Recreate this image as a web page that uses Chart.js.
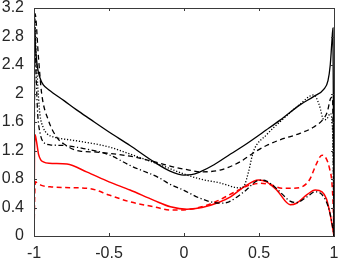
<!DOCTYPE html>
<html><head><meta charset="utf-8">
<script src="https://cdn.jsdelivr.net/npm/chart.js@4/dist/chart.umd.min.js"></script>
<style>html,body{margin:0;padding:0;background:#fff}#wrap{width:338px;height:261px}</style>
</head><body><div id="wrap"><canvas id="c" width="338" height="261"></canvas></div>
<script>
const xTickLabels = ["-1","-0.5","0","0.5","1"];
const yTickLabels = ["0","0.4","0.8","1.2","1.6","2","2.4","2.8","3.2"];

const blackSolidX = [-1,-0.997,-0.99,-0.98,-0.97,-0.955,-0.938,-0.9,-0.8,-0.716,-0.626,-0.5,-0.36,-0.2,-0.093,0,0.05,0.107,0.2,0.31,0.4,0.55,0.643,0.773,0.866,0.933,0.96,0.975,0.985,0.993,1];
const blackSolidY = [0,2.95,2.65,2.42,2.29,2.19,2.12,2.05,1.9,1.77,1.64,1.46,1.27,1.04,0.91,0.855,0.86,0.9,1.0,1.15,1.27,1.49,1.63,1.84,1.96,2.06,2.18,2.4,2.7,2.92,0];

const blackDashX = [-1,-0.993,-0.97,-0.949,-0.905,-0.85,-0.8,-0.693,-0.6,-0.5,-0.36,-0.29,-0.16,-0.05,0.05,0.107,0.24,0.373,0.473,0.55,0.64,0.773,0.866,0.92,0.955,0.977,0.99,1];
const blackDashY = [0,3.12,2.5,2.0,1.63,1.39,1.29,1.19,1.18,1.16,1.12,1.09,1.02,0.96,0.92,0.9,0.925,1.04,1.18,1.27,1.35,1.44,1.53,1.62,1.74,1.93,1.95,0];

const blackDotX = [-1,-0.995,-0.985,-0.97,-0.96,-0.94,-0.915,-0.87,-0.827,-0.7,-0.5,-0.36,-0.16,0,0.107,0.24,0.373,0.4,0.43,0.462,0.55,0.65,0.773,0.866,0.9,0.933,0.955,0.975,0.99,1];
const blackDotY = [0,3.0,2.5,1.95,1.7,1.53,1.44,1.39,1.37,1.33,1.25,1.15,1.0,0.87,0.8,0.745,0.675,0.7,0.9,1.18,1.42,1.62,1.85,1.98,1.85,1.63,1.65,1.72,1.5,0];

const blackDashDotX = [-1,-0.995,-0.985,-0.975,-0.96,-0.938,-0.893,-0.8,-0.7,-0.5,-0.36,-0.16,-0.106,0,0.107,0.24,0.3,0.4,0.507,0.55,0.62,0.707,0.75,0.82,0.875,0.92,0.96,0.985,1];
const blackDashDotY = [0,2.9,2.2,1.7,1.45,1.32,1.28,1.27,1.24,1.14,0.99,0.81,0.74,0.64,0.53,0.46,0.48,0.62,0.785,0.77,0.66,0.49,0.47,0.55,0.62,0.58,0.42,0.2,0];

const redSolidX = [-1,-0.997,-0.993,-0.985,-0.97,-0.955,-0.938,-0.9,-0.78,-0.65,-0.5,-0.36,-0.2,-0.09,0.02,0.12,0.23,0.31,0.4,0.497,0.55,0.62,0.708,0.75,0.82,0.875,0.92,0.95,0.975,0.99,1];
const redSolidY = [0,1.1,1.42,1.35,1.15,1.07,1.04,1.02,1.01,0.9,0.76,0.645,0.5,0.41,0.375,0.4,0.47,0.55,0.69,0.785,0.76,0.64,0.44,0.46,0.58,0.645,0.62,0.52,0.3,0.12,0];

const redDashX = [-1,-0.995,-0.99,-0.98,-0.95,-0.893,-0.8,-0.626,-0.5,-0.36,-0.2,-0.09,-0.023,0.118,0.23,0.34,0.42,0.51,0.58,0.653,0.72,0.786,0.84,0.88,0.92,0.95,0.97,0.986,0.995,1];
const redDashY = [0,0.6,0.76,0.75,0.71,0.69,0.68,0.665,0.575,0.48,0.41,0.365,0.365,0.41,0.5,0.62,0.7,0.74,0.72,0.67,0.67,0.69,0.8,1.0,1.135,1.08,0.95,0.75,0.4,0];

function pts(xs, ys){ return xs.map((x,i)=>({x:x,y:ys[i]})); }
function ds(xs, ys, color, dash, w){
  return {data: pts(xs,ys), borderColor: color, borderWidth: w, borderDash: dash,
    showLine: true, pointRadius: 0, fill: false, cubicInterpolationMode: 'monotone'};
}

const xTickVals = xTickLabels.map(Number);
const yTickVals = yTickLabels.map(Number);
const frameColor = '#3a3a3a';

const framePlugin = {
  id: 'frame',
  afterDatasetsDraw(chart){
    const {ctx, chartArea:a, scales} = chart;
    ctx.save();
    ctx.strokeStyle = frameColor;
    ctx.lineWidth = 1;
    ctx.strokeRect(Math.round(a.left)+0.5, Math.round(a.top)+0.5, Math.round(a.right-a.left), Math.round(a.bottom-a.top));
    const L = 3;
    ctx.beginPath();
    xTickVals.forEach(v=>{
      const px = Math.round(scales.x.getPixelForValue(v))+0.5;
      ctx.moveTo(px, a.bottom); ctx.lineTo(px, a.bottom-L);
      ctx.moveTo(px, a.top); ctx.lineTo(px, a.top+L);
    });
    yTickVals.forEach(v=>{
      const py = Math.round(scales.y.getPixelForValue(v))+0.5;
      ctx.moveTo(a.left, py); ctx.lineTo(a.left+L, py);
      ctx.moveTo(a.right, py); ctx.lineTo(a.right-L, py);
    });
    ctx.stroke();
    ctx.restore();
  }
};

new Chart(document.getElementById('c'), {
  type: 'scatter',
  data: { datasets: [
    ds(blackSolidX, blackSolidY, '#000000', [], 1.3),
    ds(blackDashX, blackDashY, '#000000', [5,3.5], 1.3),
    ds(blackDotX, blackDotY, '#000000', [1.2,1.8], 1.3),
    ds(blackDashDotX, blackDashDotY, '#000000', [5,2.5,1.2,2.5], 1.3),
    ds(redSolidX, redSolidY, '#ff0000', [], 1.5),
    ds(redDashX, redDashY, '#ff0000', [5,3.5], 1.5)
  ]},
  options: {
    responsive: false, animation: false, devicePixelRatio: 1,
    layout: { padding: { top: 8, right: 4, left: 0, bottom: 0 } },
    plugins: { legend: { display: false }, tooltip: { enabled: false } },
    scales: {
      x: { type: 'linear', min: -1, max: 1,
        afterBuildTicks(s){ s.ticks = xTickVals.map(v=>({value:v})); },
        afterFit(s){ s.height = 25; s.paddingLeft = 0; s.paddingRight = 0; },
        grid: { display: false, drawTicks: false },
        border: { display: false },
        ticks: { padding: 8, color: '#262626', maxRotation: 0, autoSkip: false,
          font: { family: 'Liberation Sans, Arial, sans-serif', size: 16 },
          callback(v){ const i = xTickVals.indexOf(v); return i>=0 ? xTickLabels[i] : ''; } }
      },
      y: { type: 'linear', min: 0, max: 3.2,
        afterBuildTicks(s){ s.ticks = yTickVals.map(v=>({value:v})); },
        afterFit(s){ s.width = 34; s.paddingTop = 0; s.paddingBottom = 0; },
        grid: { display: false, drawTicks: false },
        border: { display: false },
        ticks: { padding: 10, color: '#262626', autoSkip: false,
          font: { family: 'Liberation Sans, Arial, sans-serif', size: 16 },
          callback(v){ const i = yTickVals.indexOf(v); return i>=0 ? yTickLabels[i] : ''; } }
      }
    }
  },
  plugins: [framePlugin]
});
</script></body></html>
